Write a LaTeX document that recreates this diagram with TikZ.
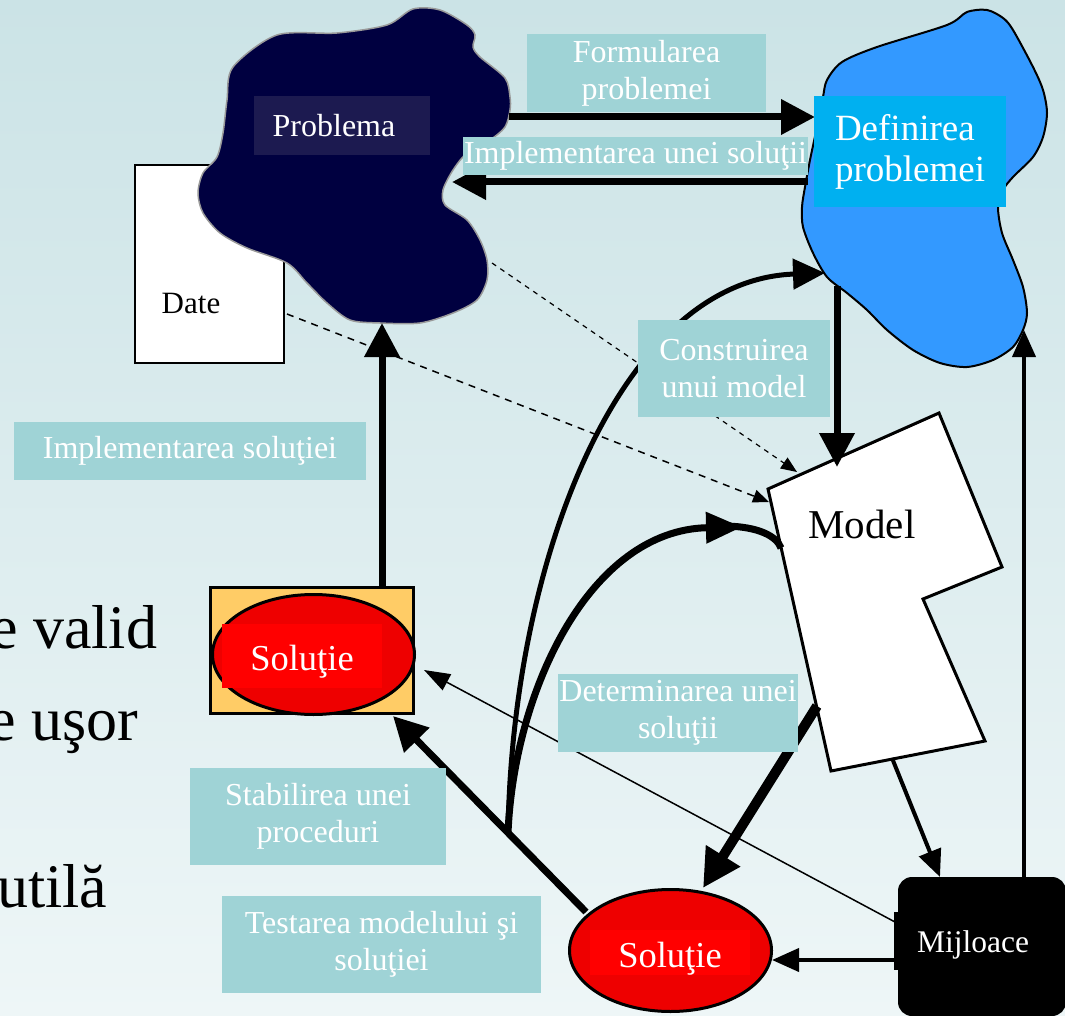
\documentclass[tikz,border=0pt]{standalone}
\usepackage{fontspec}
\setmainfont{Liberation Serif}
\usepackage{tikz}
\usetikzlibrary{arrows.meta,shapes.geometric,positioning}
\definecolor{bgtop}{RGB}{203,227,230}
\definecolor{bgbot}{RGB}{238,246,247}
\definecolor{lblteal}{RGB}{159,211,214}
\definecolor{probnavy}{RGB}{0,0,64}
\definecolor{problbl}{RGB}{28,26,80}
\definecolor{defblue}{RGB}{51,153,255}
\definecolor{deflbl}{RGB}{0,176,240}
\definecolor{solorange}{RGB}{255,204,102}
\definecolor{solred}{RGB}{238,0,0}
\definecolor{solbright}{RGB}{255,0,0}
\tikzset{lbl/.style={fill=lblteal,text=white,inner sep=0pt,align=center,font=\fontsize{32}{37}\selectfont},bigarrow/.style={-{Triangle[length=34pt,width=34pt]},line width=7pt},thinarrow/.style={-{Triangle[length=27pt,width=23pt]},line width=4pt},hairarrow/.style={-{Triangle[length=26pt,width=18pt]},line width=1.5pt},dashedarrow/.style={-{Triangle[length=16pt,width=13pt]},line width=1.5pt,dash pattern=on 7pt off 6pt},soltxt/.style={anchor=base,text=white,inner sep=0pt,font=\fontsize{36.5}{40}\selectfont}}
\tikzstyle{plain}=[inner sep=0pt,font=\fontsize{31}{37}\selectfont]

\begin{document}
\begin{tikzpicture}[x=1pt,y=-1pt]

\useasboundingbox (0,0) rectangle (1065,1016);
\shade[top color=bgtop,bottom color=bgbot] (0,0) rectangle (1065,1016);

\node (evalid) at (-10,648) [anchor=base west,inner sep=0pt,font=\fontsize{62}{70}\selectfont]{e valid};
\node (eusor) at (-12,740) [anchor=base west,inner sep=0pt,font=\fontsize{62}{70}\selectfont]{e uşor};
\node (utila) at (-3,907) [anchor=base west,inner sep=0pt,font=\fontsize{62}{70}\selectfont]{utilă};

\node (date) at (209.5,264) [draw,fill=white,line width=2pt,minimum width=149pt,minimum height=198pt]{};
\node (datetxt) at (191,313) [plain,anchor=base]{Date};

\filldraw[fill=probnavy,draw=gray!80,line width=1.5pt] plot[smooth cycle,tension=0.5] coordinates {(233,67) (277,35) (337,33) (387,25) (413,9) (440,10) (467,25) (475,35) (473,47) (480,57) (505,78) (510,97) (510,110) (505,127) (490,140) (467,153) (453,170) (443,190) (445,205) (467,220) (480,240) (487,260) (487,280) (477,300) (453,313) (420,323) (380,323) (350,320) (327,303) (307,283) (287,263) (247,248) (220,233) (203,213) (198,193) (203,173) (217,157) (223,133) (227,100)};
\node (problbl) at (342,125.5) [fill=problbl,minimum width=176pt,minimum height=59pt]{};
\node (probtxt) at (334,137) [plain,anchor=base,text=white,font=\fontsize{32}{37}\selectfont]{Problema};

\filldraw[fill=defblue,draw=black,line width=2pt] plot[smooth cycle,tension=0.5] coordinates {(827,80) (842,62) (877,47) (947,25) (967,12) (987,10) (1003,18) (1013,30) (1033,67) (1043,90) (1047,113) (1043,137) (1033,157) (1013,177) (1003,190) (998,207) (1002,233) (1013,260) (1023,287) (1027,313) (1023,330) (1013,347) (993,360) (967,367) (940,363) (913,350) (887,330) (867,310) (847,293) (827,277) (813,253) (803,227) (802,207) (805,187) (810,160) (817,127) (823,97)};

\filldraw[fill=white,line width=3pt] (768,489) -- (939,413) -- (1002,567) -- (923,599) -- (985,741) -- (831,771) -- cycle;
\node (mdtxt) at (862,538) [plain,anchor=base,font=\fontsize{41}{45}\selectfont]{Model};

\coordinate (pbR) at (509,117);
\coordinate (dfL) at (815,117);
\coordinate (dfI) at (808,182);
\coordinate (pbI) at (452,182);
\coordinate (solT) at (382,586);
\coordinate (pbB) at (382,323);
\coordinate (dfB) at (837,286);
\coordinate (mdT) at (837,467);
\coordinate (mjT) at (1024,877);
\coordinate (dfR) at (1024,330);
\coordinate (mdB) at (892,758);
\coordinate (mjTL) at (940,877);
\coordinate (mjL) at (898,960);
\coordinate (slR) at (772,960);
\coordinate (mjW) at (895,922);
\coordinate (solR) at (424,670);
\coordinate (slTL) at (586,912);
\coordinate (solB) at (393,716);
\coordinate (fork) at (508,833);
\coordinate (dfC) at (825,273);
\coordinate (ktip) at (742,527);
\coordinate (kmid) at (722,526);
\coordinate (mdL) at (781,548);
\coordinate (mdE) at (817,706);
\coordinate (slT) at (703,888);
\coordinate (pbD) at (492,263);
\coordinate (mdT2) at (797,472);
\coordinate (dtR) at (287,314);
\coordinate (mdL2) at (769,502);

\draw[dashedarrow,line width=1.2pt,dash pattern=on 5pt off 5pt] (pbD) -- (mdT2);
\draw[dashedarrow] (dtR) -- (mdL2);

\draw[bigarrow] (pbR) -- (dfL);
\draw[bigarrow] (dfI) -- (pbI);
\draw[bigarrow] (solT) -- (pbB);
\draw[bigarrow] (dfB) -- (mdT);
\draw[thinarrow] (mjT) -- (dfR);
\draw[thinarrow] (mdB) -- (mjTL);
\draw[thinarrow] (mjL) -- (slR);
\draw[hairarrow] (mjW) -- (solR);
\draw[bigarrow] (slTL) -- (solB);
\draw[-{Triangle[length=32pt,width=30pt]},line width=5pt] (fork) .. controls (512,560) and (620,280) .. (dfC);
\draw[line width=7pt] (kmid) .. controls (760,526) and (777,537) .. (mdL);
\draw[-{Triangle[length=36pt,width=30pt]},line width=7pt] (fork) .. controls (514,690) and (590,530) .. (ktip);
\draw[-{Triangle[length=38pt,width=38pt]},line width=10pt] (mdE) -- (slT);

\node (solbox) at (312,650.5) [draw,line width=3.5pt,fill=solorange,minimum width=203pt,minimum height=126pt,inner sep=0pt]{};
\node (sol1) at (313.5,654.5) [ellipse,draw,line width=3pt,fill=solred,minimum width=202pt,minimum height=120pt,inner sep=0pt]{};
\fill[solbright] (222,624) rectangle (382,688);
\node (sol1txt) at (302,670) [soltxt]{Soluţie};

\node (sol2) at (670.5,950.5) [ellipse,draw,line width=3pt,fill=solred,minimum width=202pt,minimum height=122pt,inner sep=0pt]{};
\fill[solbright] (590,930) rectangle (750,975);
\node (sol2txt) at (670,967) [soltxt]{Soluţie};

\node (mij) at (982,946.5) [fill=black,rounded corners=14pt,minimum width=168pt,minimum height=139pt]{};
\fill (894,912) rectangle (899,970);
\node (mijtxt) at (973,952) [plain,anchor=base,text=white,font=\fontsize{31.5}{37}\selectfont]{Mijloace};

\node (deflbl) at (910,151.5) [fill=deflbl,text=white,align=left,inner sep=0pt,minimum width=192pt,minimum height=111pt,font=\fontsize{37}{41}\selectfont]{Definirea\\problemei};

\node (formlbl) at (646.5,73) [lbl,minimum width=239pt,minimum height=78pt]{Formularea\\problemei};
\node (impllbl) at (635.5,156) [lbl,minimum width=345pt,minimum height=38pt]{Implementarea unei soluţii};
\node (constlbl) at (734,368.5) [lbl,minimum width=192pt,minimum height=97pt]{Construirea\\unui model};
\node (implsol) at (190,451) [lbl,minimum width=352pt,minimum height=58pt]{Implementarea soluţiei};
\node (stablbl) at (318,816.5) [lbl,minimum width=256pt,minimum height=97pt]{Stabilirea unei\\proceduri};
\node (testlbl) at (381.5,944.5) [lbl,minimum width=319pt,minimum height=97pt]{Testarea modelului şi\\soluţiei};
\node (detlbl) at (678,713) [lbl,minimum width=240pt,minimum height=78pt]{Determinarea unei\\soluţii};

\end{tikzpicture}
\end{document}
